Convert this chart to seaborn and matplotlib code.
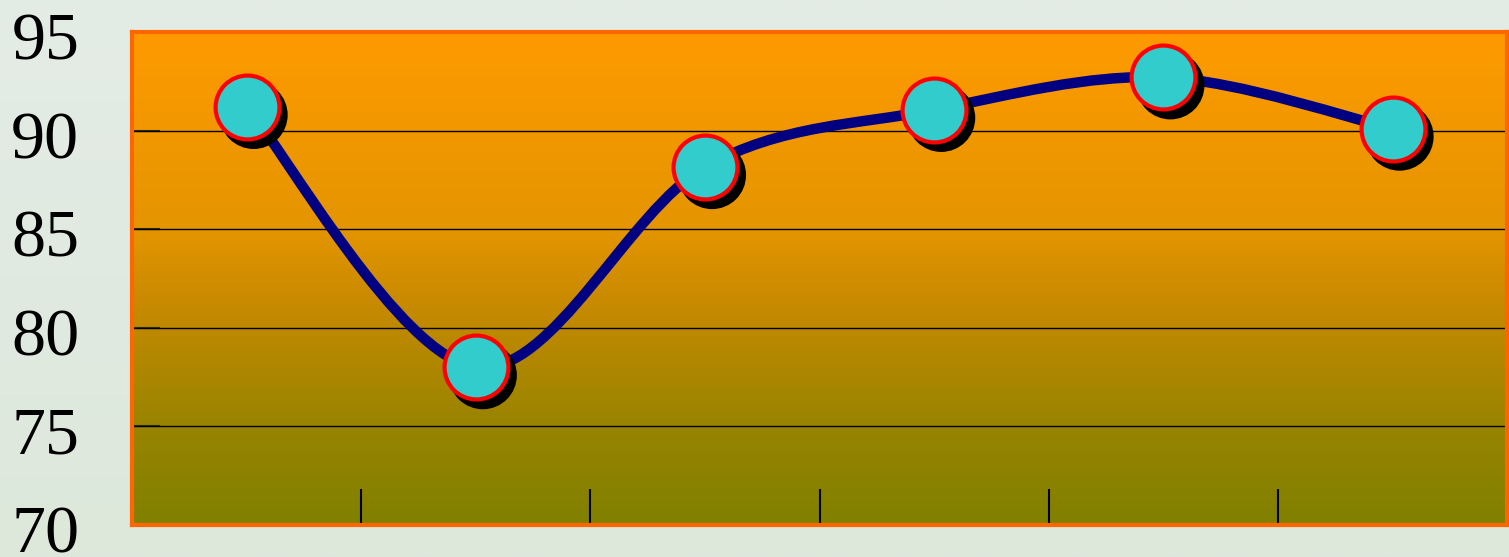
import matplotlib
matplotlib.use("Agg")
import matplotlib.pyplot as plt
import numpy as np
import pandas as pd
import seaborn as sns
from matplotlib.path import Path
from matplotlib.patches import PathPatch
from matplotlib.transforms import offset_copy, ScaledTranslation

# values
periods = ["1", "2", "3", "4", "5", "6"]
values = [91.2, 78.0, 88.15, 91.05, 92.7, 90.1]
y_ticks = [70, 75, 80, 85, 90, 95]

df = pd.DataFrame({"period": periods, "value": values})

sns.set_theme(style="white")
plt.rcParams["font.family"] = ["Liberation Serif", "DejaVu Serif"]

fig = plt.figure(figsize=(15.09, 5.57), dpi=100)
fig.patch.set_facecolor("#E1EAE2")

# soft background gradient of the slide
bg = fig.add_axes([0, 0, 1, 1], zorder=-10)
bg.imshow(np.linspace(0, 1, 256).reshape(-1, 1), aspect="auto",
          cmap=matplotlib.colors.LinearSegmentedColormap.from_list("bg", ["#E4ECE6", "#DDE8DB"]),
          extent=[0, 1, 0, 1], origin="upper")
bg.axis("off")

ax = fig.add_axes([0.0875, 0.0575, 0.9113, 0.885])
ax.set_xlim(-0.5, 5.5)
ax.set_ylim(70, 95)

# orange -> olive plot area
grad = matplotlib.colors.LinearSegmentedColormap.from_list(
    "plot", [(0, "#FF9A00"), (0.4, "#E49500"), (0.55, "#C88A00"),
             (0.8, "#988400"), (1, "#808000")])
ax.imshow(np.linspace(0, 1, 256).reshape(-1, 1), aspect="auto", cmap=grad,
          extent=[-0.5, 5.5, 70, 95], origin="upper", zorder=0)

for y in y_ticks[1:-1]:
    ax.axhline(y, color="black", lw=1, zorder=1)

# smoothed line (catmull-rom -> bezier, drawn from the data points)
xs = np.arange(len(values), dtype=float)
ys = np.array(values)
verts = [(xs[0], ys[0])]
codes = [Path.MOVETO]
n = len(xs)
for i in range(n - 1):
    p0 = np.array([xs[max(i - 1, 0)], ys[max(i - 1, 0)]])
    p1 = np.array([xs[i], ys[i]])
    p2 = np.array([xs[i + 1], ys[i + 1]])
    p3 = np.array([xs[min(i + 2, n - 1)], ys[min(i + 2, n - 1)]])
    c1 = p1 + (p2 - p0) / 6
    c2 = p2 - (p3 - p1) / 6
    verts += [tuple(c1), tuple(c2), tuple(p2)]
    codes += [Path.CURVE4] * 3
ax.add_patch(PathPatch(Path(verts, codes), fill=False, edgecolor="#000080",
                       lw=7.5, capstyle="round", joinstyle="round", zorder=3))

# marker shadows
sns.scatterplot(data=df, x="period", y="value", s=49 ** 2, color="black",
                edgecolor="none", ax=ax, zorder=4, legend=False)
ax.collections[-1].set_offset_transform(offset_copy(ax.transData, fig=fig, x=7, y=-8, units="dots"))

sns.scatterplot(data=df, x="period", y="value", s=46 ** 2, color="#33CCCC",
                edgecolor="#FF0000", linewidth=3, ax=ax, zorder=5, legend=False)

ax.set_xlim(-0.5, 5.5)
ax.set_ylim(70, 95)
ax.set_xticks(np.arange(0.5, 5, 1))
ax.set_xticklabels([])
ax.set_yticks(y_ticks)
ax.set_yticklabels([str(t) for t in y_ticks], fontsize=49, color="black")
ax.tick_params(axis="y", direction="in", length=20, width=1.5, color="#333300", pad=38, left=True)
ax.tick_params(axis="x", direction="in", length=26, width=1.5, color="black", bottom=True)
for lab in ax.get_yticklabels():
    lab.set_transform(lab.get_transform() + ScaledTranslation(0, -0.04, fig.dpi_scale_trans))
ax.set_xlabel("")
ax.set_ylabel("")

for s in ax.spines.values():
    s.set_color("#FF6600")
    s.set_linewidth(3)
    s.set_zorder(6)
ax.axvline(-0.5, color="black", lw=1.5, zorder=6)
ax.axhline(70, color="black", lw=1.5, zorder=6)

fig.savefig("out.png", dpi=100, facecolor=fig.get_facecolor())
